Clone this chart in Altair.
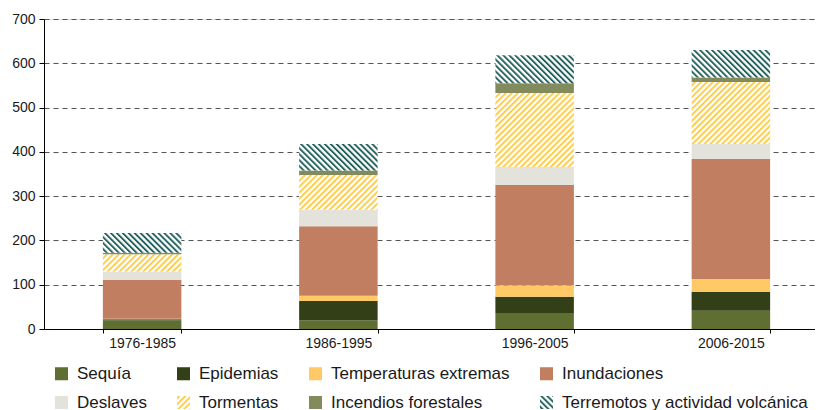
import altair as alt
import pandas as pd
from altair.utils import html as alt_html

# ---------------- data ----------------
periods = ["1976-1985", "1986-1995", "1996-2005", "2006-2015"]
categories = [
    "Sequía",
    "Epidemias",
    "Temperaturas extremas",
    "Inundaciones",
    "Deslaves",
    "Tormentas",
    "Incendios forestales",
    "Terremotos y actividad volcánica",
]
sequia = [20, 20, 36, 41]
epidemias = [2, 43, 37, 43]
temperaturas = [1, 12, 26, 29]
inundaciones = [88, 157, 226, 271]
deslaves = [19, 37, 41, 34]
tormentas = [39, 79, 167, 140]
incendios = [3, 10, 22, 10]
terremotos = [45, 60, 63, 62]
y_ticks = [0, 100, 200, 300, 400, 500, 600, 700]

series = [sequia, epidemias, temperaturas, inundaciones,
          deslaves, tormentas, incendios, terremotos]

rows = []
for ci, (cat, vals) in enumerate(zip(categories, series)):
    for p, v in zip(periods, vals):
        rows.append({"periodo": p, "tipo": cat, "valor": v, "orden": ci})
df = pd.DataFrame(rows)

# ---------------- styles ----------------
storm_yellow = "#FFCC44"
quake_teal = "#23625D"
fills = [
    "#5E6F31",            # Sequía
    "#333F17",            # Epidemias
    "#FFC966",            # Temperaturas extremas
    "#C17E61",            # Inundaciones
    "#E3E3DB",            # Deslaves
    "url(#hatchStorm)",   # Tormentas (hatched)
    "#838B5C",            # Incendios forestales
    "url(#hatchQuake)",   # Terremotos (hatched)
]
FONT = "Liberation Sans"

bars = alt.Chart(df).mark_bar().encode(
    x=alt.X(
        "periodo:N",
        sort=periods,
        scale=alt.Scale(paddingInner=0.6, paddingOuter=0.3),
        axis=alt.Axis(
            title=None, labelAngle=0, tickBand="extent", tickSize=4,
            tickColor="#000", domainColor="#000", labelFontSize=14,
            labelColor="#1a1a1a", labelPadding=3, labelFont=FONT,
        ),
    ),
    y=alt.Y(
        "valor:Q",
        stack="zero",
        scale=alt.Scale(domain=[0, 700], nice=False),
        axis=alt.Axis(
            title=None, values=y_ticks, grid=True, gridDash=[5, 4],
            gridColor="#555555", gridWidth=1, tickSize=5, tickColor="#000",
            domainColor="#000", labelFontSize=14, labelColor="#1a1a1a",
            labelPadding=4, labelFont=FONT,
        ),
    ),
    color=alt.Color(
        "tipo:N",
        scale=alt.Scale(domain=categories, range=fills),
        legend=alt.Legend(
            title=None, orient="none", legendX=9, legendY=346, columns=4,
            direction="horizontal",
            columnPadding=28, rowPadding=11, symbolType="square",
            symbolSize=170, symbolStrokeWidth=0, labelFontSize=17,
            labelOffset=7, labelFont=FONT, labelColor="#1a1a1a", padding=0,
            labelLimit=400,
        ),
    ),
    order=alt.Order("orden:Q", sort="ascending"),
)

chart = bars.properties(
    width=785,
    height=310,
    autosize=alt.AutoSizeParams(type="none"),
    padding={"left": 36, "top": 11, "right": 0, "bottom": 83},
).configure_view(strokeWidth=0).configure(font=FONT)

PATTERN_DEFS = f"""
<style>
  html, body {{ overflow: hidden; }}
  .vega-embed svg {{ flex-shrink: 0; }}
</style>
<svg width="0" height="0" style="position:absolute;left:0;top:0" aria-hidden="true">
  <defs>
    <pattern id="hatchStorm" patternUnits="userSpaceOnUse" width="4.2" height="4.2" patternTransform="rotate(45)">
      <rect width="4.2" height="4.2" fill="#ffffff"/>
      <rect width="1.9" height="4.2" fill="{storm_yellow}"/>
    </pattern>
    <pattern id="hatchQuake" patternUnits="userSpaceOnUse" width="4.2" height="4.2" patternTransform="rotate(-45)">
      <rect width="4.2" height="4.2" fill="#ffffff"/>
      <rect width="1.9" height="4.2" fill="{quake_teal}"/>
    </pattern>
  </defs>
</svg>
"""


class PatternTemplate:
    """Standard Altair HTML page with SVG hatch patterns added to the body."""

    def render(self, **kwargs):
        page = alt_html.HTML_TEMPLATE.render(**kwargs)
        if "<body>" in page:
            return page.replace("<body>", "<body>" + PATTERN_DEFS, 1)
        return PATTERN_DEFS + page


chart.save("out.html", embed_options={"renderer": "svg", "actions": False},
           template=PatternTemplate())
